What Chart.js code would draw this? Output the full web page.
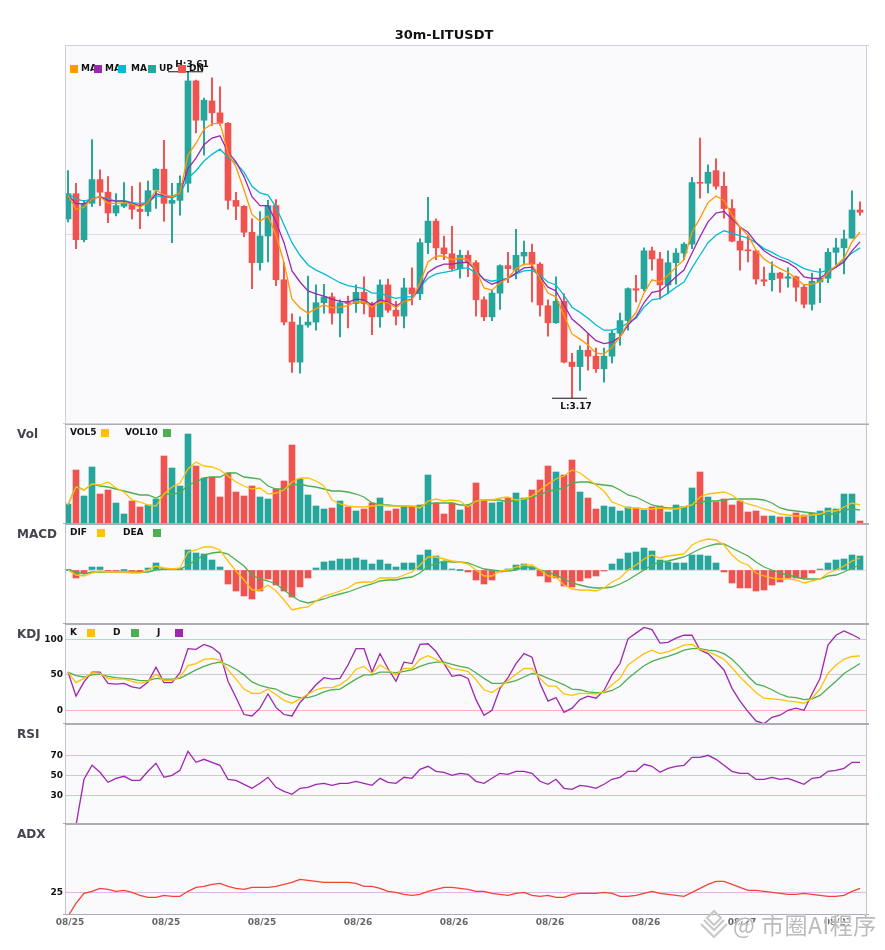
<!DOCTYPE html>
<html>
<head>
<meta charset="utf-8">
<title>30m-LITUSDT</title>
<script src="https://cdn.jsdelivr.net/npm/chart.js@4/dist/chart.umd.min.js"></script>
<style>
  html, body { margin: 0; padding: 0; background: #fff; }
  #page { position: relative; width: 885px; height: 950px; overflow: hidden; }
  #page canvas { position: absolute; left: 0; }
  #mark { position: absolute; left: 733px; top: 907px; white-space: nowrap; color: #bbbbbb; letter-spacing: 0.5px;
    font: 23px "Noto Sans CJK SC", sans-serif; text-shadow: 0 0 2px #fff, 1px 1px 0 #fff; }
  #logo { position: absolute; left: 699px; top: 909px; }
</style>
</head>
<body>
<div id="page">
  <canvas id="main" width="885" height="424" style="top:0"></canvas>
  <canvas id="vol" width="885" height="100" style="top:424px"></canvas>
  <canvas id="macd" width="885" height="100" style="top:524px"></canvas>
  <canvas id="kdj" width="885" height="100" style="top:624px"></canvas>
  <canvas id="rsi" width="885" height="100" style="top:724px"></canvas>
  <canvas id="adx" width="885" height="126" style="top:824px"></canvas>
  <svg id="logo" width="30" height="30" viewBox="0 0 30 30" fill="none" stroke="#c8c8c8" stroke-width="2">
    <path d="M15 2 L22 9 L15 16 L8 9 Z M5 11 L15 21 L25 11 M2 15 L15 28 L28 15"/>
  </svg>
  <div id="mark">@ 市圈AI程序</div>
</div>

<script>
// ***** candles
const opens = [3.411,3.445,3.383,3.432,3.464,3.447,3.419,3.428,3.432,3.424,
  3.421,3.450,3.478,3.432,3.436,3.459,3.597,3.544,3.570,3.554,
  3.540,3.436,3.428,3.393,3.352,3.388,3.429,3.329,3.272,3.218,
  3.268,3.272,3.298,3.306,3.284,3.298,3.297,3.312,3.297,3.279,
  3.322,3.288,3.280,3.318,3.310,3.379,3.408,3.372,3.364,3.344,
  3.362,3.352,3.302,3.279,3.311,3.348,3.342,3.361,3.366,3.350,
  3.294,3.271,3.300,3.218,3.212,3.234,3.226,3.209,3.226,3.257,
  3.274,3.317,3.317,3.368,3.357,3.322,3.352,3.365,3.377,3.460,
  3.459,3.476,3.455,3.425,3.381,3.369,3.368,3.329,3.329,3.338,
  3.331,3.333,3.319,3.296,3.326,3.331,3.366,3.372,3.385,3.423];
const closes = [3.445,3.383,3.432,3.464,3.447,3.419,3.429,3.432,3.424,3.421,
  3.449,3.478,3.432,3.436,3.459,3.597,3.544,3.571,3.554,3.540,
  3.436,3.428,3.393,3.352,3.388,3.429,3.329,3.272,3.218,3.268,
  3.272,3.298,3.306,3.284,3.298,3.297,3.312,3.297,3.279,3.322,
  3.288,3.280,3.318,3.310,3.379,3.408,3.372,3.364,3.344,3.362,
  3.352,3.302,3.279,3.311,3.348,3.344,3.362,3.366,3.350,3.295,
  3.271,3.300,3.218,3.212,3.234,3.226,3.209,3.226,3.257,3.274,
  3.317,3.315,3.368,3.357,3.322,3.352,3.365,3.377,3.460,3.459,
  3.474,3.455,3.425,3.381,3.369,3.368,3.330,3.327,3.338,3.331,
  3.333,3.319,3.296,3.327,3.331,3.366,3.372,3.384,3.423,3.420];
const highs = [3.476,3.459,3.436,3.518,3.477,3.468,3.445,3.460,3.455,3.460,
  3.462,3.479,3.517,3.459,3.469,3.610,3.598,3.574,3.601,3.589,
  3.541,3.447,3.429,3.411,3.421,3.436,3.437,3.352,3.283,3.279,
  3.334,3.322,3.323,3.311,3.302,3.307,3.322,3.333,3.299,3.329,
  3.330,3.300,3.331,3.345,3.384,3.440,3.411,3.388,3.401,3.369,
  3.368,3.355,3.306,3.315,3.349,3.366,3.397,3.381,3.377,3.352,
  3.302,3.333,3.310,3.230,3.240,3.256,3.237,3.237,3.261,3.284,
  3.318,3.335,3.372,3.373,3.366,3.368,3.371,3.379,3.467,3.520,
  3.484,3.492,3.474,3.437,3.400,3.388,3.369,3.346,3.353,3.339,
  3.345,3.334,3.323,3.338,3.344,3.371,3.385,3.396,3.449,3.434];
const lows = [3.407,3.371,3.380,3.428,3.429,3.406,3.415,3.426,3.411,3.398,
  3.415,3.425,3.408,3.379,3.416,3.447,3.527,3.497,3.537,3.537,
  3.424,3.410,3.387,3.317,3.342,3.353,3.321,3.268,3.204,3.203,
  3.265,3.261,3.284,3.269,3.252,3.264,3.285,3.283,3.255,3.265,
  3.285,3.268,3.264,3.295,3.302,3.364,3.356,3.356,3.341,3.331,
  3.333,3.280,3.274,3.274,3.289,3.325,3.330,3.349,3.299,3.280,
  3.253,3.270,3.217,3.170,3.180,3.207,3.204,3.191,3.217,3.241,
  3.261,3.299,3.314,3.342,3.303,3.310,3.323,3.356,3.371,3.439,
  3.446,3.451,3.412,3.380,3.342,3.353,3.323,3.321,3.314,3.312,
  3.319,3.300,3.291,3.288,3.298,3.325,3.349,3.337,3.385,3.416];

// ***** moving averages on the candles
const ma5 = [3.443,3.424,3.427,3.438,3.441,3.432,3.432,3.433,3.431,3.427,
  3.433,3.450,3.443,3.441,3.446,3.497,3.513,3.532,3.539,3.540,
  3.500,3.481,3.450,3.417,3.408,3.415,3.389,3.352,3.303,3.291,
  3.284,3.290,3.295,3.291,3.292,3.294,3.299,3.299,3.292,3.299,
  3.298,3.291,3.300,3.302,3.325,3.353,3.361,3.361,3.356,3.358,
  3.356,3.342,3.318,3.315,3.325,3.331,3.344,3.350,3.350,3.331,
  3.311,3.306,3.281,3.256,3.249,3.241,3.230,3.229,3.238,3.252,
  3.271,3.285,3.311,3.329,3.326,3.335,3.346,3.356,3.393,3.412,
  3.433,3.442,3.436,3.416,3.400,3.389,3.369,3.357,3.350,3.344,
  3.339,3.331,3.322,3.323,3.326,3.339,3.348,3.358,3.380,3.393];
const ma10 = [3.443,3.432,3.431,3.438,3.441,3.436,3.435,3.435,3.432,3.429,
  3.433,3.445,3.442,3.441,3.446,3.479,3.493,3.511,3.520,3.523,
  3.501,3.488,3.468,3.441,3.429,3.429,3.407,3.379,3.341,3.326,
  3.314,3.310,3.307,3.303,3.300,3.299,3.303,3.302,3.295,3.302,
  3.299,3.294,3.300,3.303,3.318,3.339,3.346,3.350,3.350,3.352,
  3.352,3.342,3.329,3.323,3.327,3.331,3.338,3.345,3.346,3.333,
  3.319,3.314,3.295,3.276,3.267,3.257,3.247,3.243,3.245,3.252,
  3.268,3.279,3.298,3.312,3.314,3.323,3.333,3.342,3.365,3.387,
  3.407,3.419,3.421,3.411,3.400,3.393,3.379,3.368,3.361,3.356,
  3.352,3.345,3.333,3.331,3.331,3.339,3.346,3.353,3.368,3.380];
const ma20 = [3.445,3.438,3.435,3.438,3.441,3.438,3.435,3.436,3.433,3.432,
  3.433,3.442,3.441,3.439,3.445,3.466,3.476,3.489,3.498,3.505,
  3.494,3.486,3.474,3.455,3.446,3.443,3.427,3.403,3.379,3.362,
  3.349,3.342,3.337,3.331,3.325,3.321,3.319,3.317,3.311,3.311,
  3.307,3.304,3.306,3.306,3.319,3.331,3.337,3.339,3.341,3.344,
  3.345,3.338,3.330,3.327,3.329,3.331,3.337,3.341,3.342,3.335,
  3.326,3.322,3.308,3.292,3.285,3.277,3.268,3.261,3.261,3.264,
  3.271,3.277,3.292,3.302,3.304,3.311,3.319,3.326,3.345,3.362,
  3.379,3.389,3.395,3.392,3.388,3.385,3.379,3.371,3.366,3.360,
  3.356,3.350,3.344,3.341,3.339,3.342,3.346,3.356,3.365,3.372];

// ***** volume
const volumes = [20,54,28,57,30,34,21,10,23,17,19,25,68,56,38,90,58,46,47,27,
  51,32,28,38,27,25,35,43,79,45,29,18,15,16,23,17,13,15,21,26,
  13,15,18,18,19,49,21,10,21,14,19,41,24,21,22,26,31,26,34,44,
  58,52,49,64,32,26,15,18,17,13,17,16,14,17,18,12,19,17,36,52,
  27,22,25,19,23,12,13,8,8,7,7,11,9,11,13,16,15,30,30,3];
const vol5 = [19,37,34,40,39,42,36,32,24,22,19,18,30,37,41,55,62,58,57,54,
  48,42,38,35,36,30,31,34,42,46,46,43,38,24,20,18,17,17,18,19,
  18,18,18,18,16,23,25,23,24,23,17,23,24,24,26,27,24,25,28,34,
  40,45,48,54,51,45,39,33,22,19,16,16,15,15,16,15,15,17,19,27,
  30,31,32,29,23,20,18,15,13,10,9,8,8,9,10,13,13,17,21,19];
const vol10 = [19,38,34,40,38,37,35,33,31,29,29,26,30,30,31,39,42,46,47,47,
  51,51,47,46,45,38,35,35,39,40,38,37,35,33,33,32,30,27,21,19,
  19,18,18,17,18,20,21,21,21,19,19,23,24,24,24,22,24,25,27,29,
  33,34,36,41,42,42,40,39,38,34,29,27,23,19,17,16,16,17,19,22,
  23,23,24,25,25,25,25,24,21,16,14,13,12,11,10,10,10,14,15,14];

// ***** MACD
const macdHist = [0,-8,-3,3,3,-1,-1,0,-1,-2,2,7,1.5,1.5,1.5,20,17,16,10,3,
  -14,-21,-26,-29,-21,-9,-15,-21,-27,-17,-8,2,8,9,11,11,12,10,6,10,
  6,3,7,7,15,20,14,8,1,0,-2,-10,-14,-10,-2,1,5,6,3,-6,
  -12,-8,-16,-17,-11,-8,-6,-1,6,11,17,18,22,19,10,8,7,7,15,15,
  14,7,-2,-13,-18,-18,-21,-20,-15,-12,-8,-8,-8,-3,1,7,10,11,15,14];
const dif = [0,-5,-6,-3,-1,-2,-2,-2,-3,-3,0,4,2,1,2,18,20,23,23,20,
  9,-1,-10,-20,-20,-15,-21,-30,-40,-38,-37,-31,-26,-24,-21,-18,-13,-12,-12,-8,
  -8,-8,-5,-2,5,13,13,11,9,8,6,0,-6,-6,-1,0,3,5,5,0,
  -6,-7,-15,-19,-20,-20,-21,-18,-12,-8,0,5,11,15,12,14,15,16,25,29,
  31,30,25,15,8,5,-3,-6,-8,-9,-9,-10,-13,-11,-9,-3,0,4,9,12];
const dea = [0,-2,-4,-2,-2,-2,-2,-2,-2,-2,-2,0,1,1,1,5,10,15,17,18,
  16,10,4,-5,-9,-11,-14,-20,-26,-31,-33,-31,-29,-26,-24,-22,-19,-16,-14,-11,
  -10,-10,-8,-7,-3,4,6,9,8,8,7,4,1,0,-1,-1,0,3,3,0,
  -2,-5,-9,-13,-15,-17,-18,-18,-17,-14,-10,-5,0,5,8,9,11,13,17,21,
  24,26,26,22,18,14,8,3,0,-3,-5,-7,-9,-9,-9,-6,-5,-2,2,5];

// ***** KDJ
const kLine = [54,39,45,53,52,45,44,44,41,38,41,51,42,42,47,63,66,72,73,71,
  57,44,30,24,24,30,22,14,10,16,23,29,32,32,36,44,58,62,52,64,
  57,50,59,59,72,77,72,66,59,57,55,43,29,25,33,42,51,59,59,45,
  34,34,23,21,24,24,23,26,36,45,64,72,80,85,80,83,87,92,93,86,
  83,78,72,60,47,36,25,17,16,15,13,12,10,17,30,52,64,72,76,77];
const dLine = [54,49,47,50,51,48,46,45,44,42,42,45,44,44,45,51,57,62,66,68,
  64,58,50,40,35,32,30,24,20,18,18,21,26,29,30,37,44,50,50,54,
  54,53,55,57,62,66,68,68,65,62,60,53,45,38,38,39,42,47,52,50,
  45,41,36,30,29,26,25,25,28,34,45,54,63,69,73,76,80,85,87,87,
  85,84,80,72,61,48,37,34,29,23,19,18,15,16,21,31,41,52,59,66];
const jLine = [54,20,40,54,54,38,37,38,33,31,40,61,39,39,53,87,86,93,89,80,
  41,18,-6,-8,3,23,4,-6,-8,11,23,36,46,44,45,64,87,87,54,80,
  59,41,68,66,93,94,83,66,48,50,45,15,-7,0,31,46,66,80,75,38,
  13,18,-3,3,15,20,17,28,50,66,101,109,117,114,95,96,102,106,106,85,
  80,69,57,31,13,-2,-15,-19,-10,-7,0,3,0,23,45,92,106,112,107,101];

// ***** RSI, ADX
const rsiLine = [0,0,46,60,53,43,47,49,45,45,54,62,48,50,55,74,63,66,63,60,
  46,45,41,37,42,48,38,34,31,37,38,41,42,40,42,42,44,42,40,47,
  43,42,48,47,56,59,54,53,50,52,51,44,42,47,52,51,54,54,52,44,
  41,46,37,36,40,39,37,41,46,48,54,54,61,59,53,57,59,60,68,68,
  70,66,60,54,52,52,46,46,48,46,47,44,41,47,48,54,55,57,63,63];
const adxLine = [1,14,24,26,29,28,26,27,25,22,20,20,22,21,21,26,30,31,33,34,
  31,29,28,30,30,30,31,33,35,38,37,36,35,35,35,35,34,31,31,29,
  26,25,23,22,23,26,28,30,30,29,28,26,26,24,23,22,24,25,22,21,
  22,20,20,23,24,24,24,25,24,21,21,22,24,26,24,23,22,21,25,29,
  33,36,36,33,30,27,27,26,25,24,23,23,24,23,22,21,21,22,26,29];

// ***** axis labels and extremes
const xTickIndexes = [0, 12, 24, 36, 48, 60, 72, 84, 96];
const xTickLabels = ['08/25', '08/25', '08/25', '08/26', '08/26', '08/26', '08/26', '08/27', '08/27'];
const highMark = { index: 15, price: 3.61, text: 'H:3.61' };
const lowMark = { index: 63, price: 3.17, text: 'L:3.17' };

// *****
const UP = '#26a69a';
const DOWN = '#ef5350';
const YELLOW = '#ffc107';
const GREEN = '#4caf50';
const PURPLE = '#9c27b0';
const FONT = '"DejaVu Sans"';

const candleColors = closes.map((c, i) => (c >= opens[i] ? UP : DOWN));
const macdColors = macdHist.map(v => (v >= 0 ? UP : DOWN));

const points = arr => arr.map((y, x) => ({ x, y }));
const ranges = (a, b) => a.map((v, x) => ({ x, y: [v, b[x]] }));

function line(data, color, width = 1.3) {
  return { type: 'line', data: points(data), borderColor: color, borderWidth: width,
    pointRadius: 0, tension: 0, fill: false, order: 0 };
}

function bars(data, colors, thickness, order = 2) {
  return { type: 'bar', data, backgroundColor: colors, barThickness: thickness,
    minBarLength: 1, grouped: false, order };
}

// Фон, рамка, подпись панели и легенда рисуются тут
const panelPlugin = {
  id: 'panel',
  beforeDraw(chart, args, opts) {
    const { ctx, chartArea: a } = chart;
    ctx.save();
    ctx.fillStyle = '#fafafd';
    ctx.fillRect(a.left, a.top, a.width, a.height);
    ctx.restore();
  },
  afterDraw(chart, args, opts) {
    const { ctx, chartArea: a } = chart;
    ctx.save();
    // рамка
    ctx.lineWidth = 1;
    ctx.strokeStyle = opts.sideColor;
    ctx.beginPath();
    ctx.moveTo(a.left + 0.5, a.top);
    ctx.lineTo(a.left + 0.5, a.bottom);
    ctx.moveTo(a.right + 0.5, a.top);
    ctx.lineTo(a.right + 0.5, a.bottom);
    ctx.stroke();
    ctx.strokeStyle = opts.edgeColor;
    ctx.beginPath();
    ctx.moveTo(a.left, a.top + 0.5);
    ctx.lineTo(a.right + 3, a.top + 0.5);
    ctx.moveTo(a.left - 2, a.bottom - 0.5);
    ctx.lineTo(a.right + 3, a.bottom - 0.5);
    ctx.stroke();

    ctx.textBaseline = 'middle';
    if (opts.title) {
      ctx.fillStyle = '#44444f';
      ctx.font = 'bold 12px ' + FONT;
      ctx.fillText(opts.title, 17, a.top + 11);
    }

    // H / L
    (opts.marks || []).forEach(m => {
      const x = chart.scales.x.getPixelForValue(m.index);
      const y = chart.scales.y.getPixelForValue(m.price);
      ctx.strokeStyle = '#111';
      ctx.beginPath();
      ctx.moveTo(x - 20, y + 0.5);
      ctx.lineTo(x + 15, y + 0.5);
      ctx.stroke();
      ctx.fillStyle = '#111';
      ctx.font = 'bold 9px ' + FONT;
      ctx.textAlign = 'center';
      ctx.fillText(m.text, x + 4, y + m.dy);
      ctx.textAlign = 'left';
    });

    // легенда: сначала текст, квадраты поверх
    ctx.font = 'bold 9px ' + FONT;
    ctx.fillStyle = '#111';
    (opts.legend || []).forEach(l => ctx.fillText(l.text, l.textX, a.top + opts.legendY));
    (opts.legend || []).forEach(l => {
      ctx.fillStyle = l.color;
      ctx.fillRect(l.boxX, a.top + opts.legendY - 4, 8, 8);
    });
    ctx.restore();
  },
};

function makeChart(id, datasets, y, panel, extra = {}) {
  const lineColors = y.lineColors || {};
  const leftPad = extra.left || 0;
  return new Chart(document.getElementById(id), {
    type: 'bar',
    data: { datasets },
    plugins: [panelPlugin],
    options: {
      responsive: false,
      animation: false,
      events: [],
      layout: { padding: { left: leftPad, right: 19 } },
      plugins: {
        legend: { display: false },
        tooltip: { enabled: false },
        title: extra.title || { display: false },
        panel: Object.assign({ sideColor: '#c4c4cc', edgeColor: '#acacb4', legendY: 9 }, panel),
      },
      scales: {
        x: {
          type: 'linear',
          offset: false,
          min: -0.375,
          max: 99.75,
          display: !!extra.xAxis,
          grid: { display: false, drawTicks: false },
          border: { display: false },
          afterBuildTicks: s => { s.ticks = xTickIndexes.map(value => ({ value })); },
          afterFit: s => {
            if (extra.xAxis) s.height = 35;
            s.paddingLeft = 0;
            s.paddingRight = 0;
          },
          ticks: {
            autoSkip: false,
            maxRotation: 0,
            padding: 2,
            labelOffset: 2,
            color: '#666',
            font: { family: FONT, size: 9, weight: 'bold' },
            callback: (v, i) => xTickLabels[i],
          },
        },
        y: {
          min: y.min,
          max: y.max,
          afterBuildTicks: s => { s.ticks = (y.ticks || []).map(value => ({ value })); },
          afterFit: s => {
            s.width = 65 - leftPad;
            s.paddingTop = 0;
            s.paddingBottom = 0;
          },
          border: { display: false },
          grid: {
            drawTicks: false,
            lineWidth: 1,
            color: c => lineColors[c.tick.value] || 'rgba(0,0,0,0)',
          },
          ticks: {
            display: !!y.showLabels,
            padding: 2,
            color: '#111',
            font: { family: FONT, size: 9, weight: 'bold' },
            callback: v => String(v),
          },
        },
      },
    },
  });
}

// ***** цена
makeChart('main', [
  line(ma5, '#ff9800'),
  line(ma10, PURPLE),
  line(ma20, '#00bcd4'),
  bars(ranges(opens, closes), candleColors, 6, 2),
  bars(ranges(lows, highs), candleColors, 1.3, 3),
], {
  min: 3.1346, max: 3.6454, ticks: [3.39], lineColors: { 3.39: '#dcdce6' },
}, {
  sideColor: '#cfcfdb',
  edgeColor: '#cfcfdb',
  legendY: 24,
  marks: [Object.assign({ dy: -6.5 }, highMark), Object.assign({ dy: 9 }, lowMark)],
  legend: [
    { text: 'MA', textX: 81, boxX: 70, color: '#ff9800' },
    { text: 'MA', textX: 105, boxX: 94, color: PURPLE },
    { text: 'MA', textX: 131, boxX: 118, color: '#00bcd4' },
    { text: 'UP', textX: 159, boxX: 148, color: UP },
    { text: 'DN', textX: 189, boxX: 178, color: DOWN },
  ],
}, {
  left: 22,
  title: {
    display: true,
    text: '30m-LITUSDT',
    color: '#111',
    font: { family: FONT, size: 13, weight: 'bold' },
    padding: { top: 28.2, bottom: 1.2 },
  },
});

// ***** объём
makeChart('vol', [
  line(vol5, YELLOW),
  line(vol10, GREEN),
  bars(points(volumes), candleColors, 6),
], { min: 0, max: 100 }, {
  title: 'Vol',
  legend: [
    { text: 'VOL5', textX: 70, boxX: 101, color: YELLOW },
    { text: 'VOL10', textX: 125, boxX: 163, color: GREEN },
  ],
});

// ***** MACD
makeChart('macd', [
  line(dif, YELLOW),
  line(dea, GREEN),
  bars(points(macdHist), macdColors, 6),
], { min: -54, max: 46, ticks: [0], lineColors: { 0: '#dddddd' } }, {
  title: 'MACD',
  legend: [
    { text: 'DIF', textX: 70, boxX: 97, color: YELLOW },
    { text: 'DEA', textX: 123, boxX: 153, color: GREEN },
  ],
});

// ***** KDJ
makeChart('kdj', [
  line(kLine, YELLOW),
  line(dLine, GREEN),
  line(jLine, PURPLE),
], {
  min: -19.4, max: 121.9, ticks: [0, 50, 100], showLabels: true,
  lineColors: { 0: '#ffb4b4', 50: '#cccccc', 100: '#a8dcd8' },
}, {
  title: 'KDJ',
  legend: [
    { text: 'K', textX: 70, boxX: 87, color: YELLOW },
    { text: 'D', textX: 113, boxX: 131, color: GREEN },
    { text: 'J', textX: 157, boxX: 175, color: PURPLE },
  ],
});

// ***** RSI
makeChart('rsi', [line(rsiLine, PURPLE)], {
  min: 1.3, max: 101.3, ticks: [30, 50, 70], showLabels: true,
  lineColors: { 30: '#ffb4b4', 50: '#cccccc', 70: '#a8dcd8' },
}, { title: 'RSI' });

// ***** ADX
makeChart('adx', [line(adxLine, '#f44336')], {
  min: 2.3, max: 93.3, ticks: [25], showLabels: true,
  lineColors: { 25: '#e2b4ea' },
}, { title: 'ADX' }, { xAxis: true });
</script>
</body>
</html>
